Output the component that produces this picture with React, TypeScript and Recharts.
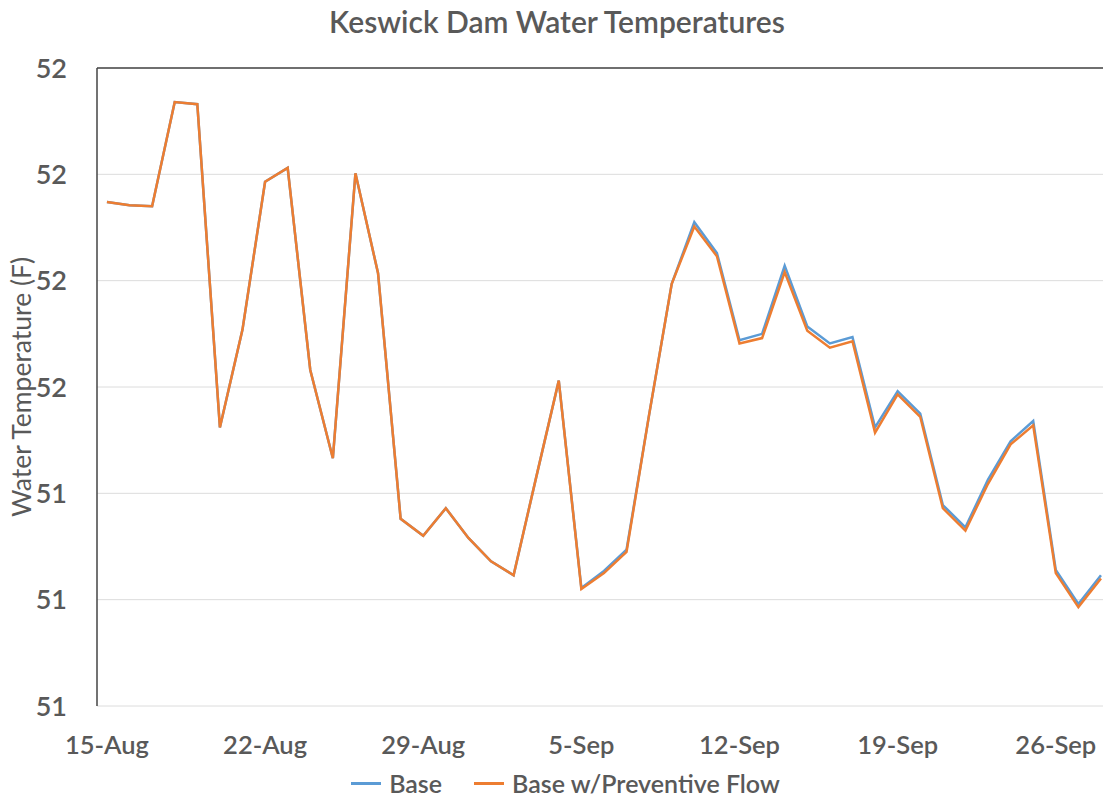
import React from 'react';
import { LineChart, Line, XAxis, YAxis, CartesianGrid, Legend, ReferenceLine } from 'recharts';

const dates = [
  '15-Aug', '16-Aug', '17-Aug', '18-Aug', '19-Aug', '20-Aug', '21-Aug', '22-Aug', '23-Aug', '24-Aug',
  '25-Aug', '26-Aug', '27-Aug', '28-Aug', '29-Aug', '30-Aug', '31-Aug', '1-Sep', '2-Sep', '3-Sep',
  '4-Sep', '5-Sep', '6-Sep', '7-Sep', '8-Sep', '9-Sep', '10-Sep', '11-Sep', '12-Sep', '13-Sep',
  '14-Sep', '15-Sep', '16-Sep', '17-Sep', '18-Sep', '19-Sep', '20-Sep', '21-Sep', '22-Sep', '23-Sep',
  '24-Sep', '25-Sep', '26-Sep', '27-Sep', '28-Sep',
];

const baseTemps = [
  51.674, 51.671, 51.670, 51.768, 51.766, 51.462, 51.554, 51.693, 51.706, 51.516,
  51.433, 51.701, 51.607, 51.376, 51.360, 51.386, 51.358, 51.336, 51.323, 51.415,
  51.506, 51.311, 51.327, 51.347, 51.474, 51.597, 51.655, 51.626, 51.544, 51.550,
  51.614, 51.557, 51.541, 51.547, 51.462, 51.496, 51.475, 51.389, 51.368, 51.413,
  51.449, 51.468, 51.328, 51.296, 51.323,
];

const preventiveTemps = [
  51.674, 51.671, 51.670, 51.768, 51.766, 51.462, 51.554, 51.693, 51.706, 51.516,
  51.433, 51.701, 51.607, 51.376, 51.360, 51.386, 51.358, 51.336, 51.323, 51.415,
  51.506, 51.310, 51.325, 51.345, 51.474, 51.597, 51.651, 51.623, 51.541, 51.546,
  51.608, 51.553, 51.537, 51.543, 51.457, 51.493, 51.472, 51.386, 51.365, 51.409,
  51.446, 51.464, 51.325, 51.293, 51.320,
];

const xTicks = [0, 7, 14, 21, 28, 35, 42];
const yTicks = [51.2, 51.3, 51.4, 51.5, 51.6, 51.7, 51.8];

const data = dates.map((d, i) => ({ day: i, date: d, base: baseTemps[i], preventive: preventiveTemps[i] }));

const textColor = '#595959';
const font = 'Lato, "Open Sans", sans-serif';

const renderLegend = () => (
  <div style={{ display: 'flex', justifyContent: 'center', alignItems: 'center', height: 34, fontFamily: font, fontSize: 25, fontWeight: 600, color: textColor, paddingLeft: 28 }}>
    <span style={{ display: 'inline-block', width: 30, height: 3, background: '#5B9BD5', marginRight: 8 }} />
    <span style={{ marginRight: 32 }}>Base</span>
    <span style={{ display: 'inline-block', width: 30, height: 3, background: '#ED7D31', marginRight: 8 }} />
    <span>Base w/Preventive Flow</span>
  </div>
);

export default function App() {
  return (
    <div style={{ position: 'absolute', left: 0, top: 0, width: 1103, height: 800, background: '#fff' }}>
      <div style={{ position: 'absolute', top: 3, left: 0, width: 1114, textAlign: 'center', fontFamily: font, fontSize: 30, fontWeight: 600, color: textColor }}>
        Keswick Dam Water Temperatures
      </div>
      <LineChart width={1103} height={800} data={data} margin={{ top: 68, right: 0, bottom: 0, left: 0 }}>
        <CartesianGrid vertical={false} stroke="#dcdcdc" strokeWidth={1} />
        <ReferenceLine y={51.8} stroke="#444" strokeWidth={1.5} />
        <XAxis
          dataKey="day"
          type="number"
          domain={[-0.44, 44.09]}
          ticks={xTicks}
          tickFormatter={(v: number) => dates[v]}
          axisLine={false}
          tickLine={false}
          height={60}
          tickMargin={24}
          tick={{ fill: textColor, fontSize: 25.5, fontFamily: font, fontWeight: 600 }}
          allowDataOverflow
        />
        <YAxis
          type="number"
          domain={[51.2, 51.8]}
          ticks={yTicks}
          tickFormatter={(v: number) => String(Math.round(v))}
          width={97}
          axisLine={{ stroke: '#444', strokeWidth: 1.5 }}
          tickLine={false}
          tickMargin={24}
          tick={{ fill: textColor, fontSize: 27, fontFamily: font, fontWeight: 600 }}
          label={{
            content: (props: any) => {
              const vb = props.viewBox || { x: 0, y: 68, width: 97, height: 638 };
              const cx = vb.x + 21;
              const cy = vb.y + vb.height / 2;
              return (
                <text x={cx} y={cy} transform={`rotate(-90 ${cx} ${cy})`} textAnchor="middle" dominantBaseline="central" fill={textColor} fontSize={26.5} fontFamily={font}>
                  Water Temperature (F)
                </text>
              );
            },
          }}
        />
        <Legend verticalAlign="bottom" height={34} content={renderLegend} />
        <Line type="linear" dataKey="base" name="Base" stroke="#5B9BD5" strokeWidth={2.5} dot={false} isAnimationActive={false} />
        <Line type="linear" dataKey="preventive" name="Base w/Preventive Flow" stroke="#ED7D31" strokeWidth={2.5} dot={false} isAnimationActive={false} />
      </LineChart>
    </div>
  );
}
